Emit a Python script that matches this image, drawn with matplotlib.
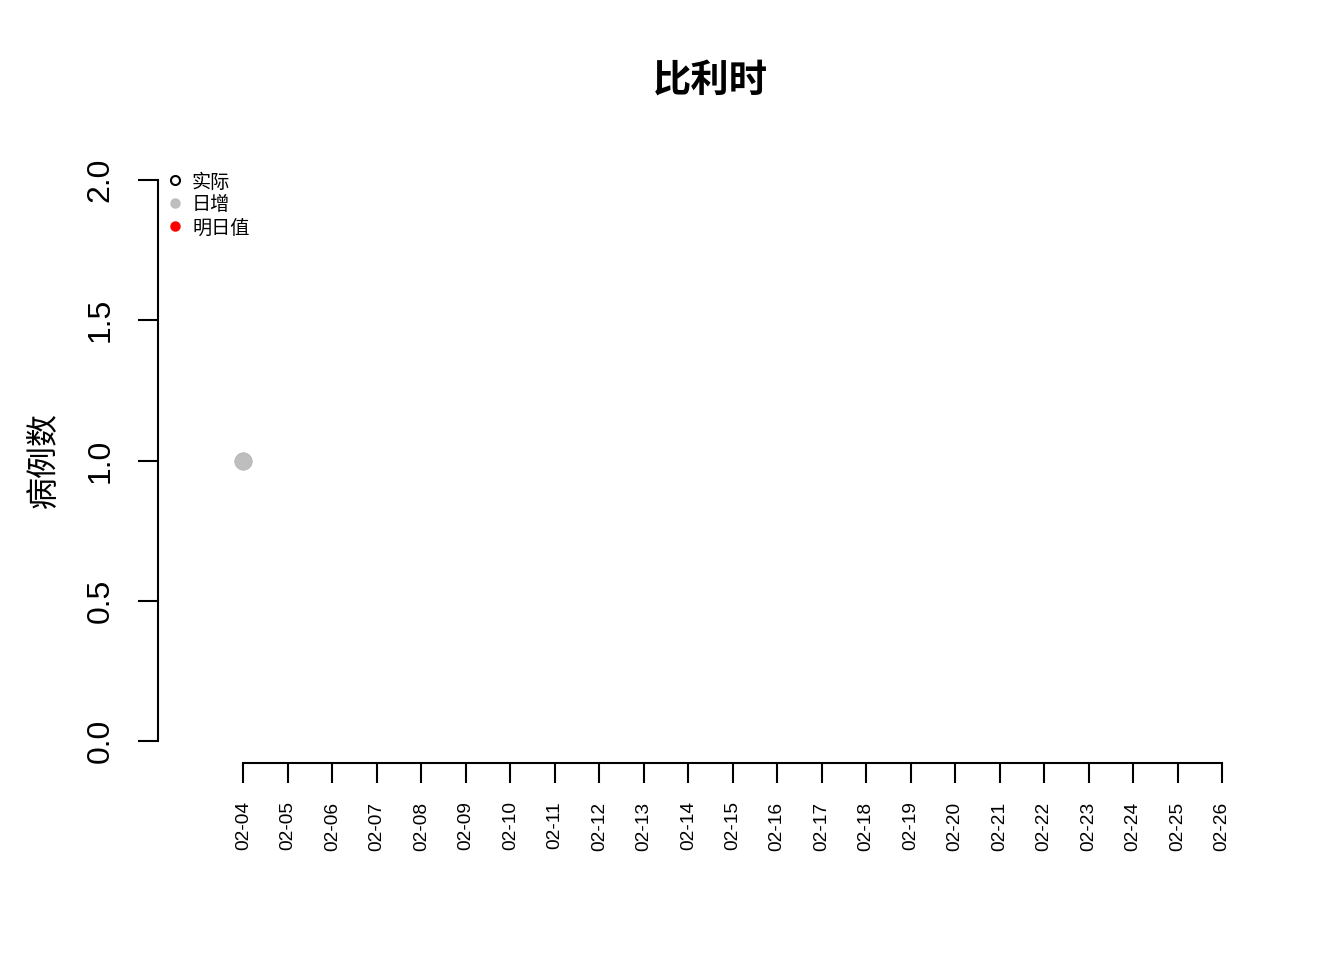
import numpy as np
import matplotlib
matplotlib.use('Agg')
import matplotlib.pyplot as plt

plt.rcParams['font.family'] = ['Liberation Sans', 'Noto Sans CJK SC', 'DejaVu Sans']

# data
dates = ['02-%02d' % d for d in range(4, 27)]
actual_dates = ['02-04']
actual_vals = [1]
daily_dates = ['02-04']
daily_vals = [1]
pred_dates = []
pred_vals = []

title = '比利时'
ylabel = '病例数'
legend_labels = ['实际', '日增', '明日值']

W, H = 1344, 960
fig = plt.figure(figsize=(W / 100, H / 100), dpi=100)
ax = fig.add_axes([158 / W, 1 - 763.4 / H, 1105 / W, 605.8 / H])

idx = {d: i for i, d in enumerate(dates)}
ax.plot([idx[d] for d in actual_dates], actual_vals, 'o', mfc='none', mec='black',
        mew=1.5, ms=11, clip_on=False)
ax.plot([idx[d] for d in daily_dates], daily_vals, 'o', color='#bebebe', ms=12,
        clip_on=False)
if pred_dates:
    ax.plot([idx[d] for d in pred_dates], pred_vals, 'o', color='red', ms=12)

ax.set_xlim(-1 - 0.92, len(dates) - 1 + 0.92)
ax.set_ylim(-0.08, 2.08)

for s in ['top', 'right']:
    ax.spines[s].set_visible(False)
ax.spines['left'].set_bounds(0, 2)
ax.spines['bottom'].set_bounds(0, len(dates) - 1)
for s in ['left', 'bottom']:
    ax.spines[s].set_linewidth(1.5)

ax.set_yticks([0, 0.5, 1.0, 1.5, 2.0])
ax.set_yticklabels(['0.0', '0.5', '1.0', '1.5', '2.0'], rotation=90, va='center')
ax.set_xticks(range(len(dates)))
ax.set_xticklabels(dates, rotation=90)
ax.tick_params(axis='y', labelsize=23, length=14.4, width=1.5, pad=16)
ax.tick_params(axis='x', labelsize=13.8, length=14.4, width=1.5, pad=13)

# legend, R style topleft
lx, tx = 0.0154, 0.0308
rows = [0.963, 0.925, 0.887]
styles = [dict(mfc='none', mec='black', mew=1.5),
          dict(color='#bebebe'),
          dict(color='red')]
for y, lab, st in zip(rows, legend_labels, styles):
    ax.plot([lx], [y], 'o', ms=6.5, transform=ax.transAxes, clip_on=False, **st)
    ax.text(tx, y - 0.004, lab, fontsize=13.8, va='center', ha='left',
            transform=ax.transAxes)

fig.text((158 + 1263) / 2 / W, 1 - 82 / H, title, fontsize=27.6, fontweight='bold',
         ha='center', va='center')
fig.text(45 / W, 1 - 460 / H, ylabel, fontsize=23, rotation=90, ha='center', va='center')

fig.savefig('out.png', dpi=100)
